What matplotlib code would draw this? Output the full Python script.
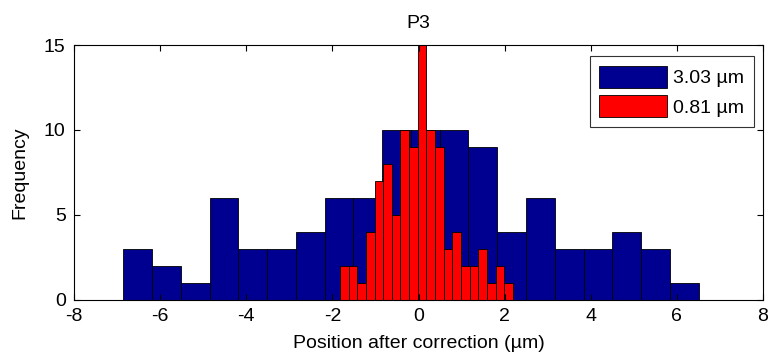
import numpy as np
import matplotlib
matplotlib.use("Agg")
import matplotlib.pyplot as plt

plt.rcParams["font.family"] = ["Liberation Sans", "DejaVu Sans"]

# Histogram of positions before correction (wide spread)
wide_range = (-6.855, 6.505)
wide_counts = [3, 2, 1, 6, 3, 3, 4, 6, 6, 10, 10, 10, 9, 4, 6, 3, 3, 4, 3, 1]
wide_label = "3.03 \u00b5m"

# Histogram of positions after correction (narrow spread)
narrow_range = (-1.823, 2.19)
narrow_counts = [2, 2, 1, 4, 7, 8, 5, 10, 9, 15, 10, 9, 3, 4, 2, 2, 3, 1, 2, 1]
narrow_label = "0.81 \u00b5m"

title = "P3"
xlabel = "Position after correction (\u00b5m)"
ylabel = "Frequency"
xticks = [-8, -6, -4, -2, 0, 2, 4, 6, 8]
yticks = [0, 5, 10, 15]

FS = 14

fig = plt.figure(figsize=(7.74, 3.6), dpi=100)
ax = fig.add_axes([0.0956, 0.1667, 0.8902, 0.7083])


def draw_hist(rng, counts, color, label):
    edges = np.linspace(rng[0], rng[1], len(counts) + 1)
    ax.bar(edges[:-1], counts, width=np.diff(edges), align="edge",
           color=color, edgecolor="black", linewidth=0.6, label=label)


draw_hist(wide_range, wide_counts, "#000090", wide_label)
draw_hist(narrow_range, narrow_counts, "#ff0000", narrow_label)

ax.set_xlim(-8, 8)
ax.set_ylim(0, 15)
ax.set_xticks(xticks)
ax.set_yticks(yticks)
ax.set_xticklabels([str(t) for t in xticks])
ax.tick_params(direction="in", length=4.5, width=0.8, top=True, right=True,
               labelsize=FS, pad=6.0)
for s in ax.spines.values():
    s.set_linewidth(0.8)

ax.set_title(title, fontsize=FS, pad=12)
ax.set_xlabel(xlabel, fontsize=FS, labelpad=7)
ax.set_ylabel(ylabel, fontsize=FS, labelpad=11)

leg = ax.legend(loc="upper right", bbox_to_anchor=(0.987, 0.957),
                fontsize=FS, frameon=True, fancybox=False, shadow=False,
                handlelength=3.5, handleheight=1.35, handletextpad=0.3,
                labelspacing=0.4, borderpad=0.5, borderaxespad=0.0)
leg.get_frame().set_edgecolor("black")
leg.get_frame().set_linewidth(0.8)

fig.savefig("out.png", dpi=100, facecolor="white")
